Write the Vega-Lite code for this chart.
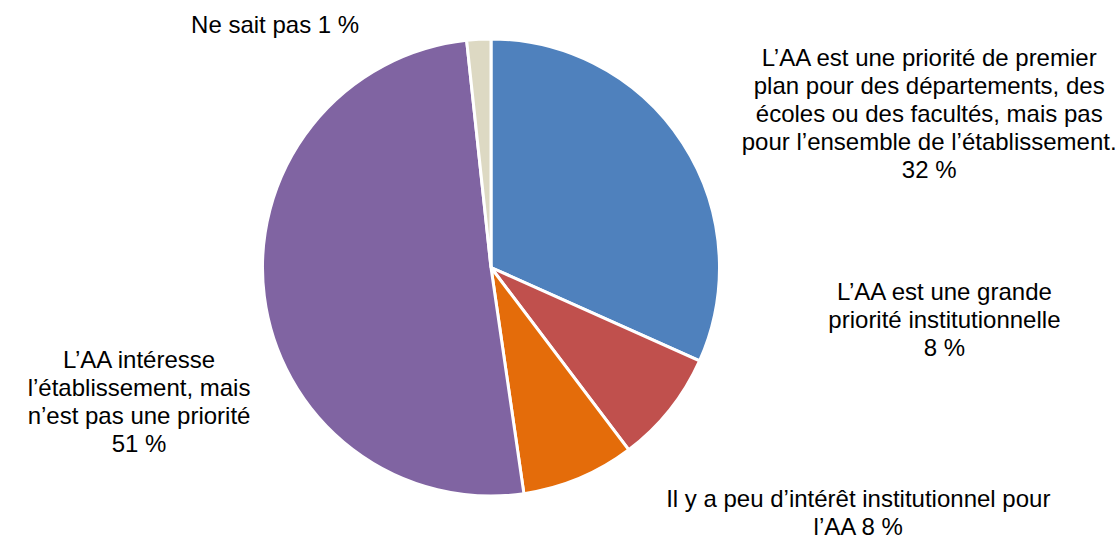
{
  "$schema": "https://vega.github.io/schema/vega-lite/v6.json",
  "width": 982,
  "height": 535,
  "autosize": {"type": "none"},
  "padding": {"left": 0, "top": 0, "right": 135, "bottom": 0},
  "background": "white",
  "config": {"view": {"stroke": null}, "font": "Liberation Sans"},
  "data": {
    "values": [
      {"rank": 1, "category": "Priorité de premier plan pour des départements", "value": 31.7, "label": "L’AA est une priorité de premier\nplan pour des départements, des\nécoles ou des facultés, mais pas\npour l’ensemble de l’établissement.\n32 %"},
      {"rank": 2, "category": "Grande priorité institutionnelle", "value": 8.0, "label": "L’AA est une grande\npriorité institutionnelle\n8 %"},
      {"rank": 3, "category": "Peu d’intérêt institutionnel", "value": 8.0, "label": "Il y a peu d’intérêt institutionnel pour\nl’AA 8 %"},
      {"rank": 4, "category": "Intéresse, mais pas une priorité", "value": 50.6, "label": "L’AA intéresse\nl’établissement, mais\nn’est pas une priorité\n51 %"},
      {"rank": 5, "category": "Ne sait pas", "value": 1.7, "label": "Ne sait pas 1 %"}
    ]
  },
  "encoding": {
    "theta": {"field": "value", "type": "quantitative", "stack": true},
    "order": {"field": "rank", "type": "quantitative"}
  },
  "layer": [
    {
      "mark": {"type": "arc", "outerRadius": 228.5, "stroke": "white", "strokeWidth": 3},
      "encoding": {
        "color": {
          "field": "category",
          "type": "nominal",
          "legend": null,
          "scale": {
            "domain": ["Priorité de premier plan pour des départements", "Grande priorité institutionnelle", "Peu d’intérêt institutionnel", "Intéresse, mais pas une priorité", "Ne sait pas"],
            "range": ["#4F81BD", "#C0504D", "#E46C0A", "#8064A2", "#DDD9C3"]
          }
        }
      }
    },
    {
      "mark": {"type": "text", "radius": 260, "dx": 220, "dy": -67, "lineBreak": "\n", "fontSize": 24, "lineHeight": 28, "color": "#000000", "align": "center", "baseline": "middle"},
      "encoding": {"text": {"condition": {"test": "datum.rank == 1", "field": "label"}, "value": ""}}
    },
    {
      "mark": {"type": "text", "radius": 260, "dx": 250, "dy": -136, "lineBreak": "\n", "fontSize": 24, "lineHeight": 28, "color": "#000000", "align": "center", "baseline": "middle"},
      "encoding": {"text": {"condition": {"test": "datum.rank == 2", "field": "label"}, "value": ""}}
    },
    {
      "mark": {"type": "text", "radius": 260, "dx": 267, "dy": -7, "lineBreak": "\n", "fontSize": 24, "lineHeight": 28, "color": "#000000", "align": "center", "baseline": "middle"},
      "encoding": {"text": {"condition": {"test": "datum.rank == 3", "field": "label"}, "value": ""}}
    },
    {
      "mark": {"type": "text", "radius": 260, "dx": -94, "dy": 61, "lineBreak": "\n", "fontSize": 24, "lineHeight": 28, "color": "#000000", "align": "center", "baseline": "middle"},
      "encoding": {"text": {"condition": {"test": "datum.rank == 4", "field": "label"}, "value": ""}}
    },
    {
      "mark": {"type": "text", "radius": 260, "dx": -202, "dy": 18, "lineBreak": "\n", "fontSize": 24, "lineHeight": 28, "color": "#000000", "align": "center", "baseline": "middle"},
      "encoding": {"text": {"condition": {"test": "datum.rank == 5", "field": "label"}, "value": ""}}
    }
  ]
}
